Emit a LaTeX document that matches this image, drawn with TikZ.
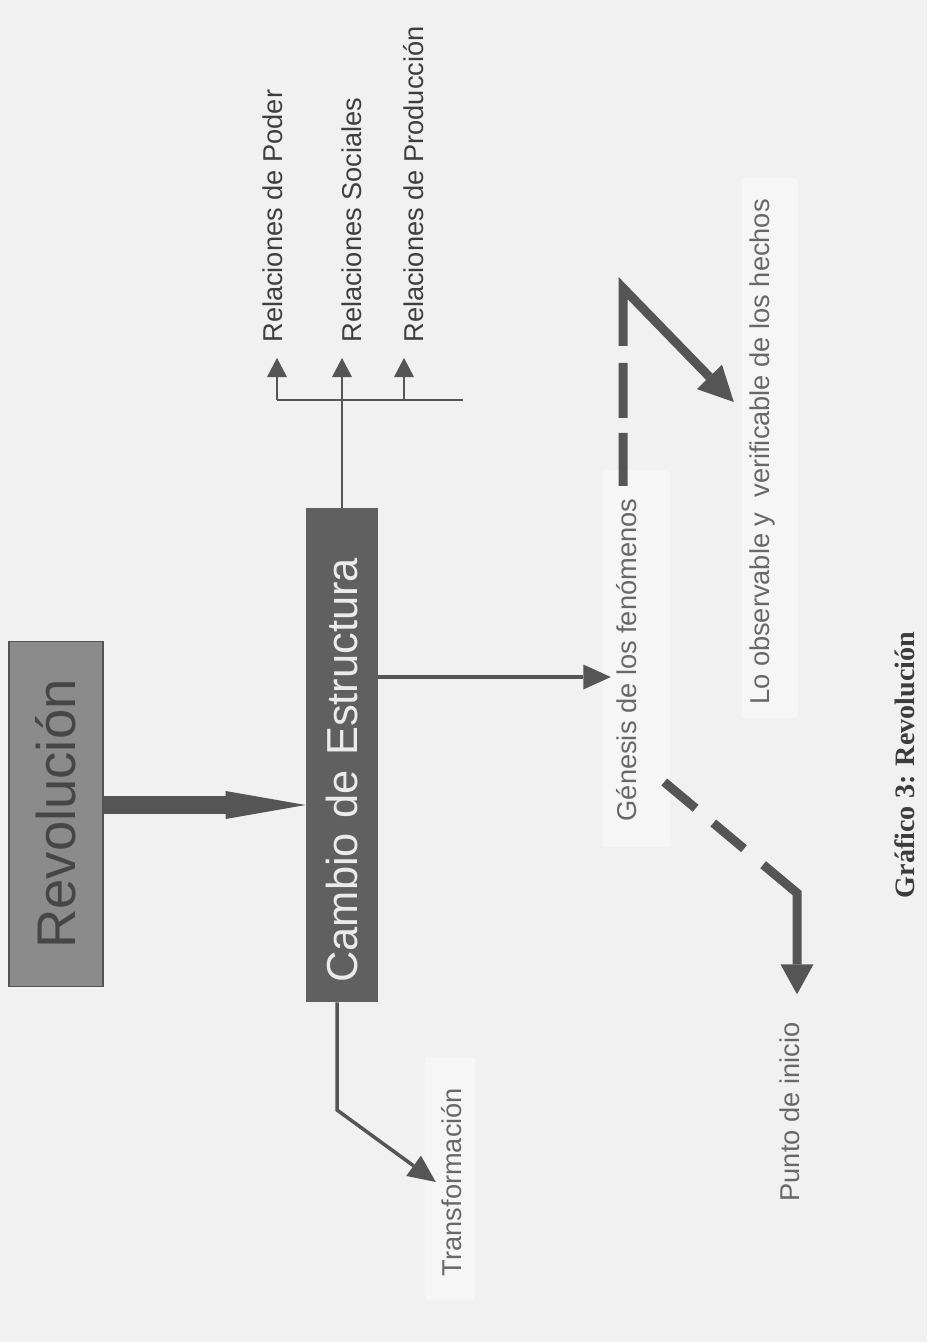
\documentclass[tikz,border=0pt]{standalone}
\definecolor{ScanGray}{RGB}{241,241,241}
\definecolor{PaleGray}{RGB}{246,246,246}
\definecolor{BoxGray}{RGB}{139,139,139}
\definecolor{BoxDark}{RGB}{96,96,96}
\definecolor{InkGray}{RGB}{85,85,85}
\definecolor{RevText}{RGB}{70,70,70}
\definecolor{RelText}{RGB}{62,62,62}
\definecolor{TextGray}{RGB}{104,104,104}
\definecolor{CapText}{RGB}{60,60,60}
\usepackage{fontspec}
\setmainfont{Liberation Sans}
\newfontfamily\captionfont{Liberation Serif}
\usepackage{tikz}
\usetikzlibrary{arrows.meta, calc, positioning}

\begin{document}
\begin{tikzpicture}[x=0.02cm, y=-0.02cm,
	etiqueta/.style={rotate=90, font=\fontsize{15.5}{18}\selectfont, text=TextGray,
		inner sep=0.25cm, text height=0.75em, text depth=0.2em},
	linea/.style={draw=InkGray, line width=0.04cm},
	fina/.style={linea, -{Triangle[length=0.38cm, width=0.4cm, line width=0pt]}},
	flecha/.style={draw=InkGray, line width=0.07cm, -{Triangle[length=0.55cm, width=0.5cm, line width=0pt]}},
	trazo/.style={draw=InkGray, line width=0.18cm}]
	\useasboundingbox (0,0) rectangle (927,1342);
	\fill[ScanGray] (0,0) rectangle (927,1342);
	\fill[PaleGray] (603,470) rectangle (670,847);
	\fill[PaleGray] (742,178) rectangle (798,718);
	\fill[PaleGray] (425,1058) rectangle (475,1300);

	\node[fill=BoxGray, draw=InkGray, line width=0.03cm, rotate=90, minimum width=6.9cm,
		minimum height=1.88cm, text=RevText, font=\fontsize{31}{36}\selectfont] (rev) at (56,814) {Revolución};
	\node[fill=BoxDark, rotate=90, minimum height=1.44cm, inner xsep=0.39cm, text width=9.1cm,
		align=left, text=white!92!black, font=\fontsize{24.7}{29}\selectfont] (cambio) at (342,755) {Cambio de Estructura};

	\node[etiqueta] (gen) at (632,660) {Génesis de los fenómenos};
	\node[etiqueta] (obs) at (765,452) {Lo observable y\ \ verificable de los hechos};
	\node[etiqueta] (trans) at (457,1182) {Transformación};
	\node[etiqueta, inner xsep=0.56cm] (punto) at (795,1112) {Punto de inicio};
	\node[rotate=90, font=\captionfont\bfseries\fontsize{16}{19}\selectfont, text=CapText] (graf) at (905,765) {Gráfico 3: Revolución};

	\foreach \nom/\txt/\xt/\xa in {
		rpod/{Relaciones de Poder}/278/277,
		rsoc/{Relaciones Sociales}/357/342,
		rpro/{Relaciones de Producción}/419/404}{
		\node[etiqueta, text=RelText, anchor=west, inner xsep=0.3cm] (\nom) at (\xt,358) {\txt};
		\coordinate (b-\nom) at (\xa,400);
		\draw[fina] (b-\nom) -- (b-\nom |- \nom.west);
	}
	\coordinate (barra) at (463,400);
	\draw[linea] (b-rpod) -- (barra);
	\draw[linea] (cambio.east) -- (b-rsoc);

	\draw[draw=InkGray, line width=0.36cm, -{Triangle[length=1.6cm, width=0.56cm, line width=0pt]}]
		([yshift=0.18cm]rev.south) -- ([yshift=0.18cm]rev.south -| cambio.north);

	\coordinate (c-gen) at ([yshift=1.56cm]cambio.south);
	\draw[flecha] (c-gen) -- (c-gen -| gen.north);

	\coordinate (t-codo) at (337,1110);
	\draw[flecha] (cambio.west -| t-codo) -- (t-codo) -- (trans.north);

	\coordinate (g-codo) at (623,288);
	\draw[trazo, dash pattern=on 1.06cm off 0.3cm on 1.1cm off 0.34cm on 20cm,
		-{Triangle[length=0.7cm, width=0.7cm, line width=0pt]}]
		(gen.east -| g-codo) -- (g-codo) -- ($(obs.north)+(-10,-50)$);

	\coordinate (p-codo) at (797,893);
	\draw[trazo, dash pattern=on 0.82cm off 0.46cm on 0.8cm off 0.5cm on 20cm,
		-{Triangle[length=0.6cm, width=0.66cm, line width=0pt]}]
		([shift={(11,122)}]gen.south) -- (p-codo) -- (p-codo |- punto.east);
\end{tikzpicture}
\end{document}
